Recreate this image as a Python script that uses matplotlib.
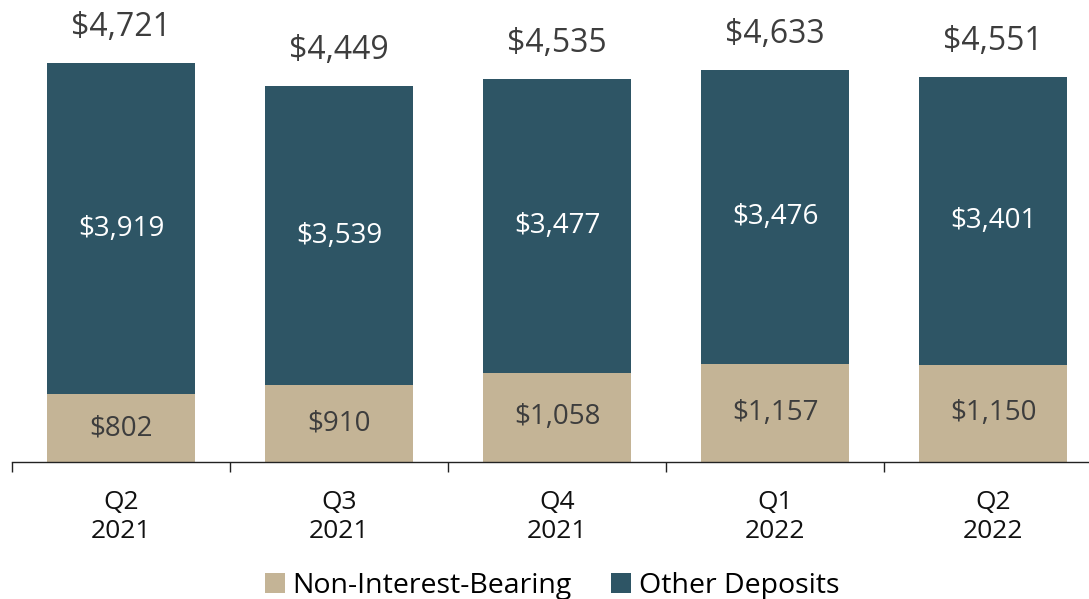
import matplotlib.pyplot as plt
import numpy as np

# deposits, $ millions
quarters = ['Q2\n2021', 'Q3\n2021', 'Q4\n2021', 'Q1\n2022', 'Q2\n2022']
non_interest = [802, 910, 1058, 1157, 1150]
other_deposits = [3919, 3539, 3477, 3476, 3401]
totals = [4721, 4449, 4535, 4633, 4551]

tan = '#C4B496'
teal = '#2E5565'
grey = '#3d3d3d'

plt.rcParams['font.family'] = ['Open Sans', 'DejaVu Sans']

fig = plt.figure(figsize=(10.89, 5.99), dpi=100)
ax = fig.add_axes([12 / 1089, 137 / 599, 1090 / 1089, 462 / 599])

x = np.arange(len(quarters))
b1 = ax.bar(x, non_interest, width=0.68, color=tan, label='Non-Interest-Bearing')
b2 = ax.bar(x, other_deposits, width=0.68, bottom=non_interest, color=teal,
            label='Other Deposits')

for i in range(len(x)):
    ax.text(x[i], non_interest[i] / 2, '${:,}'.format(non_interest[i]),
            ha='center', va='center', fontsize=20, color=grey)
    ax.text(x[i], non_interest[i] + other_deposits[i] / 2,
            '${:,}'.format(other_deposits[i]),
            ha='center', va='center', fontsize=20, color='white')
    ax.text(x[i], totals[i] + 420, '${:,}'.format(totals[i]),
            ha='center', va='center', fontsize=23, color=grey)

ax.set_xlim(-0.5, 4.5)
ax.set_ylim(0, 5467)
ax.set_yticks([])
ax.set_xticks(x)
ax.set_xticklabels(quarters, fontsize=19, color='#111111', linespacing=1.2)
ax.set_xticks(np.arange(-0.5, 5, 1), minor=True)
ax.tick_params(axis='x', which='major', length=0, pad=20)
ax.tick_params(axis='x', which='minor', length=7, width=1, color='#222222')
for s in ['top', 'right', 'left']:
    ax.spines[s].set_visible(False)
ax.spines['bottom'].set_color('#222222')
ax.spines['bottom'].set_linewidth(1)

fig.legend(handles=[b1, b2], loc='lower center', bbox_to_anchor=(0.507, -0.045),
           ncol=2, frameon=False, fontsize=20.5, handlelength=0.7,
           handleheight=0.7, handletextpad=0.25, columnspacing=1.4)

plt.savefig('out.png', dpi=100)
